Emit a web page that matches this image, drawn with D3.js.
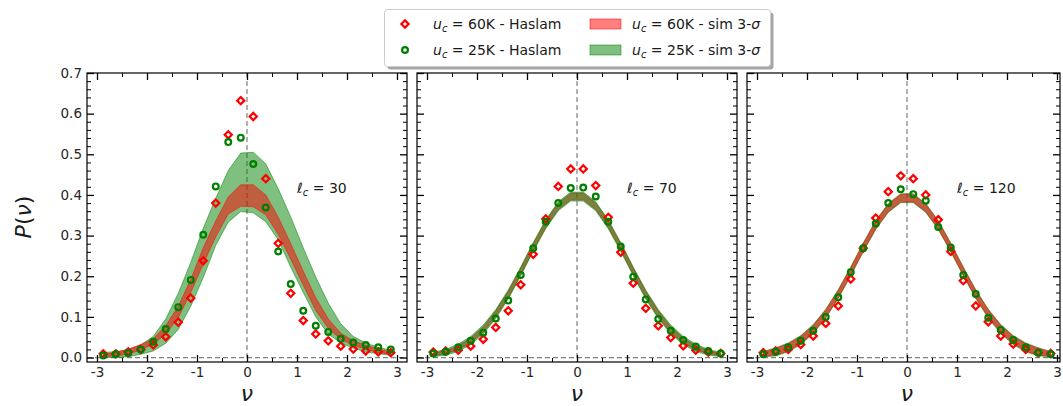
<!DOCTYPE html>
<html>
<head>
<meta charset="utf-8">
<script src="https://cdn.jsdelivr.net/npm/d3@7"></script>
<style>
body { margin: 0; background: #fff; }
text { font-family: "DejaVu Sans", sans-serif; }
</style>
</head>
<body>
<svg id="chart" width="1063" height="406"></svg>
<script>
// *********************************************
// DATA
// *********************************************
var nu = [-2.875, -2.625, -2.375, -2.125, -1.875, -1.625, -1.375, -1.125, -0.875, -0.625, -0.375, -0.125,
          0.125, 0.375, 0.625, 0.875, 1.125, 1.375, 1.625, 1.875, 2.125, 2.375, 2.625, 2.875];

var lcValues = [30, 70, 120];

// Haslam points, uc = 60K (red) and uc = 25K (green)
var h60_lc30  = [0.009, 0.009, 0.014, 0.020, 0.031, 0.051, 0.087, 0.146, 0.238, 0.380, 0.548, 0.632,
                 0.593, 0.440, 0.281, 0.158, 0.091, 0.058, 0.041, 0.028, 0.021, 0.016, 0.014, 0.012];
var h25_lc30  = [0.005, 0.008, 0.011, 0.020, 0.039, 0.070, 0.124, 0.191, 0.302, 0.421, 0.530, 0.541,
                 0.476, 0.369, 0.261, 0.181, 0.115, 0.078, 0.063, 0.046, 0.037, 0.031, 0.025, 0.020];
var h60_lc70  = [0.0135, 0.016, 0.018, 0.028, 0.045, 0.074, 0.115, 0.179, 0.254, 0.341, 0.421, 0.464,
                 0.464, 0.423, 0.345, 0.259, 0.183, 0.121, 0.078, 0.049, 0.029, 0.018, 0.0135, 0.010];
var h25_lc70  = [0.010, 0.014, 0.025, 0.041, 0.061, 0.096, 0.140, 0.203, 0.269, 0.334, 0.380, 0.417,
                 0.418, 0.396, 0.334, 0.273, 0.199, 0.143, 0.095, 0.066, 0.043, 0.027, 0.016, 0.010];
var h60_lc120 = [0.012, 0.016, 0.020, 0.032, 0.053, 0.084, 0.127, 0.193, 0.269, 0.343, 0.408, 0.447,
                 0.440, 0.400, 0.339, 0.261, 0.189, 0.127, 0.088, 0.053, 0.033, 0.020, 0.012, 0.010];
var h25_lc120 = [0.008, 0.014, 0.025, 0.041, 0.066, 0.100, 0.148, 0.210, 0.269, 0.330, 0.380, 0.414,
                 0.402, 0.386, 0.321, 0.271, 0.203, 0.156, 0.098, 0.068, 0.043, 0.025, 0.012, 0.008];

// simulation 3-sigma bands (lower / upper)
var s60lo_lc30 = [0.002, 0.004, 0.009, 0.018, 0.034, 0.057, 0.098, 0.160, 0.230, 0.297, 0.353, 0.372,
                  0.371, 0.351, 0.303, 0.242, 0.178, 0.116, 0.072, 0.045, 0.030, 0.021, 0.012, 0.008];
var s60hi_lc30 = [0.008, 0.012, 0.021, 0.032, 0.046, 0.078, 0.126, 0.192, 0.270, 0.336, 0.395, 0.425,
                  0.425, 0.400, 0.345, 0.280, 0.212, 0.147, 0.095, 0.060, 0.041, 0.030, 0.021, 0.014];
var s25lo_lc30 = [0.000, 0.000, 0.002, 0.008, 0.016, 0.035, 0.069, 0.126, 0.197, 0.276, 0.333, 0.359,
                  0.356, 0.334, 0.290, 0.222, 0.160, 0.100, 0.058, 0.036, 0.023, 0.014, 0.009, 0.006];
var s25hi_lc30 = [0.012, 0.015, 0.019, 0.031, 0.052, 0.095, 0.158, 0.234, 0.318, 0.392, 0.460, 0.503,
                  0.505, 0.477, 0.415, 0.346, 0.270, 0.198, 0.134, 0.083, 0.052, 0.036, 0.025, 0.018];

var s60lo_lc70 = [0.004, 0.009, 0.019, 0.036, 0.062, 0.099, 0.147, 0.204, 0.264, 0.320, 0.364, 0.388,
                  0.388, 0.364, 0.320, 0.264, 0.204, 0.147, 0.099, 0.062, 0.036, 0.019, 0.009, 0.004];
var s60hi_lc70 = [0.010, 0.017, 0.029, 0.048, 0.076, 0.115, 0.163, 0.220, 0.280, 0.336, 0.380, 0.404,
                  0.404, 0.380, 0.336, 0.280, 0.220, 0.163, 0.115, 0.076, 0.048, 0.029, 0.017, 0.010];
var s25lo_lc70 = [0.002, 0.006, 0.015, 0.032, 0.058, 0.096, 0.144, 0.201, 0.261, 0.317, 0.361, 0.385,
                  0.385, 0.361, 0.317, 0.261, 0.201, 0.144, 0.096, 0.058, 0.032, 0.015, 0.006, 0.002];
var s25hi_lc70 = [0.013, 0.020, 0.033, 0.052, 0.080, 0.118, 0.166, 0.223, 0.283, 0.339, 0.383, 0.407,
                  0.407, 0.383, 0.339, 0.283, 0.223, 0.166, 0.118, 0.080, 0.052, 0.033, 0.020, 0.013];

var s60lo_lc120 = [0.003, 0.006, 0.016, 0.034, 0.061, 0.099, 0.147, 0.203, 0.262, 0.317, 0.359, 0.383,
                   0.383, 0.359, 0.317, 0.262, 0.203, 0.147, 0.099, 0.061, 0.034, 0.016, 0.006, 0.003];
var s60hi_lc120 = [0.013, 0.022, 0.034, 0.052, 0.079, 0.117, 0.165, 0.221, 0.280, 0.335, 0.377, 0.401,
                   0.401, 0.377, 0.335, 0.280, 0.221, 0.165, 0.117, 0.079, 0.052, 0.034, 0.022, 0.013];
var s25lo_lc120 = [0.002, 0.004, 0.014, 0.032, 0.059, 0.097, 0.145, 0.201, 0.260, 0.315, 0.357, 0.381,
                   0.381, 0.357, 0.315, 0.260, 0.201, 0.145, 0.097, 0.059, 0.032, 0.014, 0.004, 0.002];
var s25hi_lc120 = [0.015, 0.024, 0.036, 0.054, 0.081, 0.119, 0.167, 0.223, 0.282, 0.337, 0.379, 0.403,
                   0.403, 0.379, 0.337, 0.282, 0.223, 0.167, 0.119, 0.081, 0.054, 0.036, 0.024, 0.015];

var xMajor = [-3, -2, -1, 0, 1, 2, 3];
var xMinor = [-2.5, -1.5, -0.5, 0.5, 1.5, 2.5];
var yMajor = [0.0, 0.1, 0.2, 0.3, 0.4, 0.5, 0.6, 0.7];
var yMinor = [0.02, 0.04, 0.06, 0.08, 0.12, 0.14, 0.16, 0.18, 0.22, 0.24, 0.26, 0.28,
              0.32, 0.34, 0.36, 0.38, 0.42, 0.44, 0.46, 0.48, 0.52, 0.54, 0.56, 0.58,
              0.62, 0.64, 0.66, 0.68];

// *********************************************
// SETUP
// *********************************************
var svg = d3.select("#chart");
var RED = "#ff0000", GREEN = "#008000";
var plotTop = 73, plotBottom = 362;

var y = d3.scaleLinear().domain([-0.011, 0.7]).range([plotBottom, plotTop]);

var panels = [
  {left: 87,  right: 407,  xmax: 3.2,  lc: lcValues[0], h60: h60_lc30,  h25: h25_lc30,
   s60: [s60lo_lc30, s60hi_lc30], s25: [s25lo_lc30, s25hi_lc30], greenOnTop: false},
  {left: 417, right: 737,  xmax: 3.2,  lc: lcValues[1], h60: h60_lc70,  h25: h25_lc70,
   s60: [s60lo_lc70, s60hi_lc70], s25: [s25lo_lc70, s25hi_lc70], greenOnTop: true},
  {left: 747, right: 1060, xmax: 3.06, lc: lcValues[2], h60: h60_lc120, h25: h25_lc120,
   s60: [s60lo_lc120, s60hi_lc120], s25: [s25lo_lc120, s25hi_lc120], greenOnTop: false}
];

function diamond(r) {
  return "M0," + (-r) + "L" + r + ",0L0," + r + "L" + (-r) + ",0Z";
}

function drawBand(g, x, band, color) {
  var area = d3.area()
      .x(function(d, i) { return x(nu[i]); })
      .y0(function(d, i) { return y(band[0][i]); })
      .y1(function(d, i) { return y(band[1][i]); });
  g.append("path")
      .attr("d", area(nu))
      .attr("fill", color)
      .attr("fill-opacity", 0.5)
      .attr("stroke", color)
      .attr("stroke-opacity", 0.5)
      .attr("stroke-width", 1);
}

function styleTicks(sel, w) {
  sel.select(".domain").remove();
  sel.selectAll(".tick line").attr("stroke", "#000").attr("stroke-width", w);
  sel.selectAll(".tick text").attr("fill", "#262626").style("font-size", "13.5px");
}

function drawPanel(p, idx) {
  var x = d3.scaleLinear().domain([-3.2, p.xmax]).range([p.left, p.right]);
  var g = svg.append("g");

  // dashed reference lines
  g.append("line")
      .attr("x1", x(0)).attr("x2", x(0)).attr("y1", plotTop).attr("y2", plotBottom)
      .attr("stroke", "#808080").attr("stroke-width", 1.2).attr("stroke-dasharray", "5,3");
  g.append("line")
      .attr("x1", p.left).attr("x2", p.right).attr("y1", y(0)).attr("y2", y(0))
      .attr("stroke", "#808080").attr("stroke-width", 1.2).attr("stroke-dasharray", "5,3");

  // bands
  if (p.greenOnTop) {
    drawBand(g, x, p.s60, RED);
    drawBand(g, x, p.s25, GREEN);
  } else {
    drawBand(g, x, p.s25, GREEN);
    drawBand(g, x, p.s60, RED);
  }

  // Haslam points
  g.selectAll(".d60").data(p.h60).enter().append("path")
      .attr("d", diamond(3.6))
      .attr("transform", function(d, i) { return "translate(" + x(nu[i]) + "," + y(d) + ")"; })
      .attr("fill", "none").attr("stroke", RED).attr("stroke-width", 2.2);
  g.selectAll(".c25").data(p.h25).enter().append("circle")
      .attr("cx", function(d, i) { return x(nu[i]); })
      .attr("cy", function(d) { return y(d); })
      .attr("r", 2.9)
      .attr("fill", "none").attr("stroke", GREEN).attr("stroke-width", 2.2);

  // axes (ticks pointing in)
  var xTicks = xMajor.filter(function(v) { return v <= p.xmax; });
  var bMaj = g.append("g").attr("transform", "translate(0," + plotBottom + ")")
      .call(d3.axisBottom(x).tickValues(xTicks).tickSize(-7).tickPadding(5)
            .tickFormat(function(d) { return d3.format("d")(d).replace("\u2212", "-"); }));
  styleTicks(bMaj, 1.3);
  var bMin = g.append("g").attr("transform", "translate(0," + plotBottom + ")")
      .call(d3.axisBottom(x).tickValues(xMinor).tickSize(-4).tickFormat(""));
  styleTicks(bMin, 1);
  var tMaj = g.append("g").attr("transform", "translate(0," + plotTop + ")")
      .call(d3.axisTop(x).tickValues(xTicks).tickSize(-7).tickFormat(""));
  styleTicks(tMaj, 1.3);
  var tMin = g.append("g").attr("transform", "translate(0," + plotTop + ")")
      .call(d3.axisTop(x).tickValues(xMinor).tickSize(-4).tickFormat(""));
  styleTicks(tMin, 1);

  var lMaj = g.append("g").attr("transform", "translate(" + p.left + ",0)")
      .call(d3.axisLeft(y).tickValues(yMajor).tickSize(-7).tickPadding(5)
            .tickFormat(idx === 0 ? d3.format(".1f") : ""));
  styleTicks(lMaj, 1.3);
  var lMin = g.append("g").attr("transform", "translate(" + p.left + ",0)")
      .call(d3.axisLeft(y).tickValues(yMinor).tickSize(-4).tickFormat(""));
  styleTicks(lMin, 1);
  var rMaj = g.append("g").attr("transform", "translate(" + p.right + ",0)")
      .call(d3.axisRight(y).tickValues(yMajor).tickSize(-7).tickFormat(""));
  styleTicks(rMaj, 1.3);
  var rMin = g.append("g").attr("transform", "translate(" + p.right + ",0)")
      .call(d3.axisRight(y).tickValues(yMinor).tickSize(-4).tickFormat(""));
  styleTicks(rMin, 1);

  // frame
  g.append("rect")
      .attr("x", p.left).attr("y", plotTop)
      .attr("width", p.right - p.left).attr("height", plotBottom - plotTop)
      .attr("fill", "none").attr("stroke", "#000").attr("stroke-width", 1.2);

  // l_c annotation
  var t = g.append("text").attr("x", x(1.0)).attr("y", 193)
      .attr("fill", "#1a1a1a").style("font-size", "14px");
  t.append("tspan").attr("font-style", "italic").text("\u2113");
  t.append("tspan").attr("font-style", "italic").style("font-size", "10px").attr("dy", 3).text("c");
  t.append("tspan").attr("dy", -3).text(" = " + p.lc);

  // x label
  g.append("text")
      .attr("x", x(0)).attr("y", 400.5)
      .attr("text-anchor", "middle")
      .attr("font-style", "italic")
      .style("font-size", "22px")
      .attr("fill", "#1a1a1a")
      .text("\u03bd");
}

panels.forEach(drawPanel);

// y label
svg.append("text")
    .attr("transform", "translate(31,217) rotate(-90)")
    .attr("text-anchor", "middle")
    .style("font-size", "22px")
    .attr("fill", "#1a1a1a")
    .html('<tspan font-style="italic">P</tspan>(<tspan font-style="italic">\u03bd</tspan>)');

// *********************************************
// LEGEND
// *********************************************
var leg = svg.append("g");
leg.append("rect")
    .attr("x", 387.5).attr("y", 12.5).attr("width", 386).attr("height", 57)
    .attr("rx", 3).attr("fill", "#000").attr("fill-opacity", 0.35);
leg.append("rect")
    .attr("x", 384.5).attr("y", 9.5).attr("width", 386).attr("height", 57)
    .attr("rx", 3).attr("fill", "#fff").attr("stroke", "#cccccc").attr("stroke-width", 1);

var legendRows = [
  {label: "60K - Haslam", kind: "diamond", color: RED, x: 405, tx: 433, y: 24},
  {label: "25K - Haslam", kind: "circle",  color: GREEN, x: 405, tx: 433, y: 50},
  {label: "60K - sim 3-", kind: "patch",   color: RED, x: 590, tx: 632, y: 24},
  {label: "25K - sim 3-", kind: "patch",   color: GREEN, x: 590, tx: 632, y: 50}
];

legendRows.forEach(function(r) {
  if (r.kind === "diamond") {
    leg.append("path").attr("d", diamond(3.6))
        .attr("transform", "translate(" + r.x + "," + r.y + ")")
        .attr("fill", "none").attr("stroke", r.color).attr("stroke-width", 2.2);
  } else if (r.kind === "circle") {
    leg.append("circle").attr("cx", r.x).attr("cy", r.y).attr("r", 2.9)
        .attr("fill", "none").attr("stroke", r.color).attr("stroke-width", 2.2);
  } else {
    leg.append("rect").attr("x", r.x).attr("y", r.y - 5).attr("width", 31).attr("height", 10)
        .attr("fill", r.color).attr("fill-opacity", 0.5)
        .attr("stroke", r.color).attr("stroke-opacity", 0.5);
  }
  var t = leg.append("text").attr("x", r.tx).attr("y", r.y + 5)
      .attr("fill", "#1a1a1a").style("font-size", "14px");
  t.append("tspan").attr("font-style", "italic").text("u");
  t.append("tspan").attr("font-style", "italic").style("font-size", "10px").attr("dy", 3).text("c");
  t.append("tspan").attr("dy", -3).text(" = " + r.label);
  if (r.kind === "patch") t.append("tspan").attr("font-style", "italic").text("\u03c3");
});
</script>
</body>
</html>
